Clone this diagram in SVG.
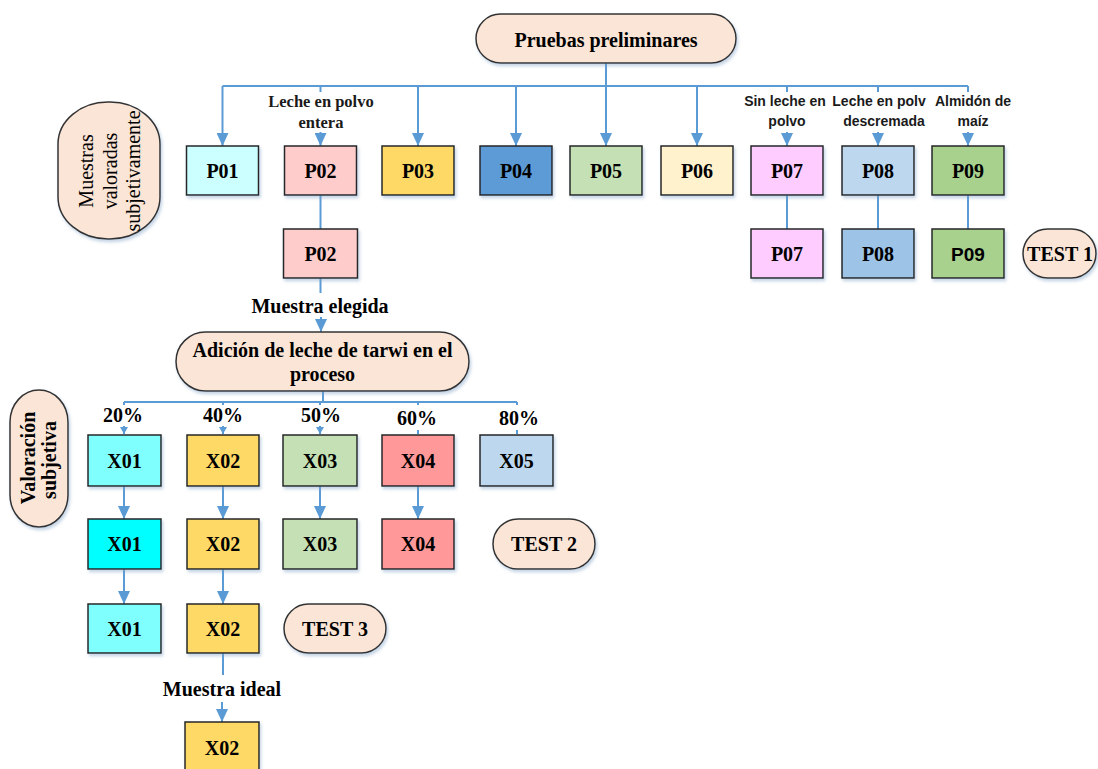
<svg xmlns="http://www.w3.org/2000/svg" width="1098" height="769" viewBox="0 0 1098 769">
  <defs>
    <filter id="sh" x="-20%" y="-20%" width="150%" height="160%">
      <feDropShadow dx="1.5" dy="2.5" stdDeviation="1.6" flood-color="#7f9fc4" flood-opacity="0.45"/>
    </filter>
    <marker id="arrS" markerUnits="userSpaceOnUse" markerWidth="8" markerHeight="7" refX="4" refY="7" orient="0" viewBox="0 0 8 7">
      <path d="M0,0 L8,0 L4,7 Z" fill="#5B9BD5"/>
    </marker>
    <marker id="arrD" markerUnits="userSpaceOnUse" markerWidth="12" markerHeight="13" refX="6" refY="13" orient="0" viewBox="0 0 12 13">
      <path d="M0,0 L12,0 L6,13 Z" fill="#5B9BD5"/>
    </marker>
  </defs>
  <style>
    .box { stroke: #262626; stroke-width: 1.5; filter: url(#sh); }
    .pill { fill: #FBE5D6; stroke: #333333; stroke-width: 1.5; filter: url(#sh); }
    .lbl { font-family: "Liberation Serif", "Times New Roman", serif; font-weight: bold; font-size: 20px; text-anchor: middle; fill: #000; }
    .lbls { font-family: "Liberation Sans", Arial, sans-serif; font-weight: bold; font-size: 19px; text-anchor: middle; fill: #000; }
    .note { font-family: "Liberation Serif", "Times New Roman", serif; font-weight: bold; font-size: 16.5px; text-anchor: middle; fill: #1a1a1a; }
    .notes { font-family: "Liberation Sans", Arial, sans-serif; font-weight: bold; font-size: 14px; text-anchor: middle; fill: #1a1a1a; }
    .vt { font-family: "Liberation Serif", "Times New Roman", serif; font-size: 20px; text-anchor: middle; fill: #000; }
    .c { fill: none; stroke: #5B9BD5; stroke-width: 2; }
  </style>

  <!-- connectors -->
  <g id="connectors">
    <line class="c" x1="606" y1="63" x2="606" y2="86"/>
    <line class="c" x1="222.5" y1="86" x2="968" y2="86"/>
    <line class="c" x1="222.5" y1="86" x2="222.5" y2="146" marker-end="url(#arrD)"/>
    <line class="c" x1="418" y1="86" x2="418" y2="146" marker-end="url(#arrD)"/>
    <line class="c" x1="516" y1="86" x2="516" y2="146" marker-end="url(#arrD)"/>
    <line class="c" x1="606" y1="86" x2="606" y2="146" marker-end="url(#arrD)"/>
    <line class="c" x1="697" y1="86" x2="697" y2="146" marker-end="url(#arrD)"/>
    <line class="c" x1="320.5" y1="86" x2="320.5" y2="92"/>
    <line class="c" x1="320.5" y1="132" x2="320.5" y2="146" marker-end="url(#arrD)"/>
    <line class="c" x1="787" y1="86" x2="787" y2="92"/>
    <line class="c" x1="787" y1="132" x2="787" y2="146" marker-end="url(#arrD)"/>
    <line class="c" x1="878" y1="86" x2="878" y2="92"/>
    <line class="c" x1="878" y1="132" x2="878" y2="146" marker-end="url(#arrD)"/>
    <line class="c" x1="968" y1="86" x2="968" y2="92"/>
    <line class="c" x1="968" y1="132" x2="968" y2="146" marker-end="url(#arrD)"/>
    <line class="c" x1="320.5" y1="195" x2="320.5" y2="229"/>
    <line class="c" x1="787" y1="195" x2="787" y2="229"/>
    <line class="c" x1="878" y1="195" x2="878" y2="229"/>
    <line class="c" x1="968" y1="195" x2="968" y2="229"/>
    <line class="c" x1="320.5" y1="278" x2="320.5" y2="293"/>
    <line class="c" x1="321" y1="317" x2="321" y2="332" marker-end="url(#arrD)"/>
    <line class="c" x1="323" y1="391" x2="323" y2="402"/>
    <line class="c" x1="124" y1="402" x2="517" y2="402"/>
    <line class="c" x1="124" y1="402" x2="124" y2="405"/>
    <line class="c" x1="223" y1="402" x2="223" y2="405"/>
    <line class="c" x1="320" y1="402" x2="320" y2="405"/>
    <line class="c" x1="418" y1="402" x2="418" y2="405"/>
    <line class="c" x1="517" y1="402" x2="517" y2="405"/>
    <line class="c" x1="124" y1="426" x2="124" y2="434" marker-end="url(#arrS)"/>
    <line class="c" x1="223" y1="426" x2="223" y2="434" marker-end="url(#arrS)"/>
    <line class="c" x1="320" y1="426" x2="320" y2="434" marker-end="url(#arrS)"/>
    <line class="c" x1="418" y1="430" x2="418" y2="434"/>
    <line class="c" x1="517" y1="430" x2="517" y2="434"/>
    <line class="c" x1="124" y1="486" x2="124" y2="519" marker-end="url(#arrD)"/>
    <line class="c" x1="223" y1="486" x2="223" y2="519" marker-end="url(#arrD)"/>
    <line class="c" x1="320" y1="486" x2="320" y2="519" marker-end="url(#arrD)"/>
    <line class="c" x1="418" y1="486" x2="418" y2="519" marker-end="url(#arrD)"/>
    <line class="c" x1="124" y1="569" x2="124" y2="604" marker-end="url(#arrD)"/>
    <line class="c" x1="223" y1="569" x2="223" y2="604" marker-end="url(#arrD)"/>
    <line class="c" x1="223" y1="653" x2="223" y2="675"/>
    <line class="c" x1="222" y1="702" x2="222" y2="722" marker-end="url(#arrD)"/>
  </g>

  <!-- connector labels -->
  <g id="labels">
    <text class="note" x="321" y="106.5">Leche en polvo</text>
    <text class="note" x="321" y="127.5">entera</text>
    <text class="notes" x="785" y="106">Sin leche en</text>
    <text class="notes" x="787" y="126">polvo</text>
    <text class="notes" x="879" y="106">Leche en polv</text>
    <text class="notes" x="884" y="126">descremada</text>
    <text class="notes" x="973" y="106">Almidón de</text>
    <text class="notes" x="973" y="126">maíz</text>
    <text class="lbl" x="320" y="313">Muestra elegida</text>
    <text class="lbl" x="123" y="422">20%</text>
    <text class="lbl" x="223" y="422">40%</text>
    <text class="lbl" x="321" y="422">50%</text>
    <text class="lbl" x="417" y="425">60%</text>
    <text class="lbl" x="519" y="425">80%</text>
    <text class="lbl" x="222" y="696">Muestra ideal</text>
  </g>

  <!-- headers -->
  <g id="pruebas">
    <rect class="pill" x="476" y="14" width="260" height="49" rx="24.5"/>
    <text class="lbl" x="606" y="47">Pruebas preliminares</text>
  </g>
  <g id="muestras-valoradas">
    <rect class="pill" x="58" y="102" width="102" height="137" rx="50" ry="42"/>
    <g transform="rotate(-90)">
      <text class="vt" x="-171" y="93">Muestras</text>
      <text class="vt" x="-171" y="117">valoradas</text>
      <text class="vt" x="-171" y="140">subjetivamente</text>
    </g>
  </g>
  <g id="adicion">
    <rect class="pill" x="176" y="332" width="293" height="59" rx="29.5"/>
    <text class="lbl" x="322.5" y="357">Adición de leche de tarwi en el</text>
    <text class="lbl" x="322.5" y="381">proceso</text>
  </g>
  <g id="valoracion">
    <rect class="pill" x="10" y="390" width="58" height="137" rx="29" ry="32"/>
    <g transform="rotate(-90)">
      <text class="lbl" x="-458" y="35">Valoración</text>
      <text class="lbl" x="-460" y="56">subjetiva</text>
    </g>
  </g>

  <!-- first row samples -->
  <g id="p01"><rect class="box" x="186.5" y="146" width="72" height="49" fill="#CCFFFF"/><text class="lbl" x="222.5" y="177.5">P01</text></g>
  <g id="p02"><rect class="box" x="284.5" y="146" width="72" height="49" fill="#FFCCCC"/><text class="lbl" x="320.5" y="177.5">P02</text></g>
  <g id="p03"><rect class="box" x="382" y="146" width="72" height="49" fill="#FFD966"/><text class="lbl" x="418" y="177.5">P03</text></g>
  <g id="p04"><rect class="box" x="480" y="146" width="72" height="49" fill="#5B9BD5"/><text class="lbl" x="516" y="177.5">P04</text></g>
  <g id="p05"><rect class="box" x="570" y="146" width="72" height="49" fill="#C5E0B4"/><text class="lbl" x="606" y="177.5">P05</text></g>
  <g id="p06"><rect class="box" x="661" y="146" width="72" height="49" fill="#FFF2CC"/><text class="lbl" x="697" y="177.5">P06</text></g>
  <g id="p07"><rect class="box" x="751" y="146" width="72" height="49" fill="#FFCCFF"/><text class="lbl" x="787" y="177.5">P07</text></g>
  <g id="p08"><rect class="box" x="842" y="146" width="72" height="49" fill="#BDD7EE"/><text class="lbl" x="878" y="177.5">P08</text></g>
  <g id="p09"><rect class="box" x="932" y="146" width="72" height="49" fill="#A9D18E"/><text class="lbl" x="968" y="177.5">P09</text></g>

  <!-- second row samples -->
  <g id="p02b"><rect class="box" x="283.5" y="229" width="74" height="49" fill="#FFCCCC"/><text class="lbl" x="320.5" y="260.5">P02</text></g>
  <g id="p07b"><rect class="box" x="751" y="229" width="72" height="49" fill="#FFCCFF"/><text class="lbl" x="787" y="260.5">P07</text></g>
  <g id="p08b"><rect class="box" x="842" y="229" width="72" height="49" fill="#9DC3E6"/><text class="lbl" x="878" y="260.5">P08</text></g>
  <g id="p09b"><rect class="box" x="932" y="229" width="72" height="49" fill="#A9D18E"/><text class="lbls" x="968" y="260.5">P09</text></g>
  <g id="test1"><rect class="pill" x="1023" y="229" width="73" height="49" rx="24.5"/><text class="lbl" x="1060" y="260.5">TEST 1</text></g>

  <!-- percentage samples -->
  <g id="x01"><rect class="box" x="88" y="435" width="73" height="51" fill="#80FFFF"/><text class="lbl" x="124.5" y="467.5">X01</text></g>
  <g id="x02"><rect class="box" x="187" y="435" width="72" height="51" fill="#FFD966"/><text class="lbl" x="223" y="467.5">X02</text></g>
  <g id="x03"><rect class="box" x="283" y="435" width="74" height="51" fill="#C5E0B4"/><text class="lbl" x="320" y="467.5">X03</text></g>
  <g id="x04"><rect class="box" x="382" y="435" width="72" height="51" fill="#FF9999"/><text class="lbl" x="418" y="467.5">X04</text></g>
  <g id="x05"><rect class="box" x="480" y="435" width="73" height="51" fill="#BDD7EE"/><text class="lbl" x="516.5" y="467.5">X05</text></g>

  <g id="x01b"><rect class="box" x="88" y="519" width="73" height="50" fill="#00FFFF"/><text class="lbl" x="124.5" y="551">X01</text></g>
  <g id="x02b"><rect class="box" x="187" y="519" width="72" height="50" fill="#FFD966"/><text class="lbl" x="223" y="551">X02</text></g>
  <g id="x03b"><rect class="box" x="283" y="519" width="74" height="50" fill="#C5E0B4"/><text class="lbl" x="320" y="551">X03</text></g>
  <g id="x04b"><rect class="box" x="382" y="519" width="72" height="50" fill="#FF9999"/><text class="lbl" x="418" y="551">X04</text></g>
  <g id="test2"><rect class="pill" x="493" y="519" width="102" height="50" rx="25"/><text class="lbl" x="544" y="551">TEST 2</text></g>

  <g id="x01c"><rect class="box" x="88" y="604" width="73" height="49" fill="#80FFFF"/><text class="lbl" x="124.5" y="635.5">X01</text></g>
  <g id="x02c"><rect class="box" x="187" y="604" width="72" height="49" fill="#FFD966"/><text class="lbl" x="223" y="635.5">X02</text></g>
  <g id="test3"><rect class="pill" x="284" y="604" width="102" height="49" rx="24.5"/><text class="lbl" x="335" y="635.5">TEST 3</text></g>

  <g id="x02d"><rect class="box" x="185" y="722" width="74" height="52" fill="#FFD966"/><text class="lbl" x="222" y="755">X02</text></g>
</svg>
